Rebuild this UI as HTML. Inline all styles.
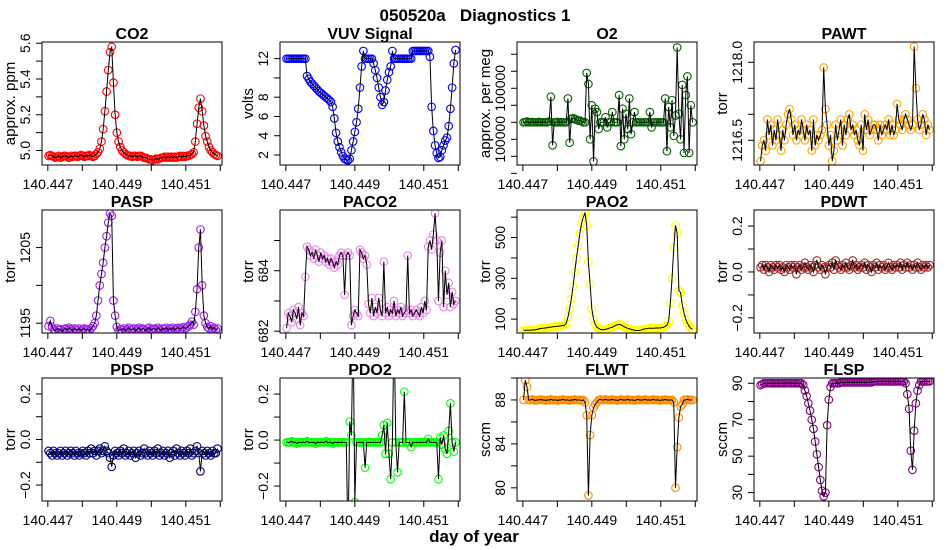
<!DOCTYPE html>
<html><head><meta charset="utf-8"><style>
html,body{margin:0;padding:0;background:#fff;}
svg{display:block;font-family:"Liberation Sans",sans-serif;}
</style></head><body>
<svg id="chart" width="950" height="550" viewBox="0 0 950 550">
<text x="475" y="21" text-anchor="middle" font-size="17" font-weight="bold" style="white-space:pre" xml:space="preserve">050520a   Diagnostics 1</text>
<text x="474" y="542" text-anchor="middle" font-size="17" font-weight="bold">day of year</text>
</svg>
<script>
const t0 = 140.44702, tStep = 0.0000495;
const xTickValues = [140.447,140.448,140.449,140.450,140.451,140.452];
const xTickLabels = ["140.447","","140.449","","140.451",""];

const co2 = [4.97,4.975,4.97,4.965,4.96,4.965,4.97,4.96,4.965,4.97,4.97,4.965,4.96,4.97,4.965,4.97,4.97,4.965,4.97,4.975,4.97,4.965,4.97,4.97,4.975,4.97,4.965,4.97,4.98,4.99,5.01,5.05,5.12,5.22,5.33,5.45,5.55,5.58,5.38,5.2,5.1,5.05,5.02,5.0,4.99,4.98,4.975,4.97,4.97,4.965,4.97,4.97,4.965,4.97,4.97,4.965,4.96,4.96,4.955,4.95,4.95,4.945,4.95,4.955,4.95,4.955,4.96,4.96,4.965,4.96,4.965,4.96,4.965,4.96,4.965,4.96,4.965,4.97,4.965,4.97,4.965,4.97,4.97,4.975,4.98,4.99,5.05,5.15,5.24,5.29,5.22,5.14,5.08,5.05,5.02,5.0,4.99,4.98,4.975,4.97];
const vuv = [12,12,12,12,12,12,12,12,12,12,12,12,10.2,9.9,9.6,9.4,9.2,9.0,8.8,8.6,8.45,8.3,8.15,8.0,7.85,7.7,7.5,7.0,5.8,4.3,3.4,2.8,2.3,1.9,1.6,1.5,1.45,1.6,2.5,3.4,4.4,5.4,6.8,9.0,11.2,12.8,12,12,12,12,12,11.5,10.8,10,9,8,7.2,7.5,8.7,9.8,10.6,11.2,12.8,12,12,12,12,12,12,12,12,12,12,12,12.8,12.8,12.8,12.8,12.8,12.8,12.8,12.8,12.8,12.8,12.2,7,4.5,3,2.2,1.7,1.8,2.5,3,3.5,3.8,5,6.8,9,11.5,12.9];
const o2 = [0,0,0.05,0,0,0.02,0,0,0,0.03,0,0,0,0,0,0.05,1.5,-1.35,0,0,0.02,0,0,0,0,0,1.4,-1.2,0.2,0.25,0.2,0.15,0.1,0.1,0.05,0,0,2.9,2.25,-1,1.0,-2.3,0.8,0.6,-0.4,0,0,0,0.3,-0.3,0,0,0.6,0,0,0,1.6,-1.4,0.8,-1,0.5,-0.4,1.4,-0.7,0,0.6,0,0,0,0,0,0,0,0,0.6,-0.3,0,0,0,0,0,0,0,1.4,-1.7,0.9,-0.3,1.3,-0.8,0.4,4.4,0.5,-1.0,2.2,-1.8,1.6,2.7,-1.8,1.0,0.0];
const pawt = [1216.1,1216.4,1216.5,1216.3,1216.9,1216.6,1216.8,1216.4,1216.7,1216.5,1216.9,1216.6,1216.3,1216.7,1216.5,1216.8,1217.0,1217.1,1216.9,1216.6,1216.8,1216.5,1216.7,1216.6,1216.9,1216.7,1216.5,1216.8,1216.6,1216.7,1216.3,1216.9,1216.4,1216.6,1216.5,1216.6,1216.7,1217.9,1217.1,1216.8,1216.4,1216.6,1216.1,1216.3,1216.8,1216.5,1216.7,1216.9,1216.4,1216.8,1216.6,1216.9,1217.0,1216.7,1216.8,1216.6,1216.7,1216.5,1216.4,1216.8,1216.3,1217.0,1216.7,1216.9,1216.6,1216.7,1216.8,1216.8,1216.7,1216.5,1216.8,1216.6,1216.7,1216.8,1216.7,1216.9,1216.6,1216.8,1216.6,1216.7,1217.2,1216.9,1216.8,1216.7,1216.9,1217.0,1216.9,1216.8,1216.7,1216.8,1218.3,1217.5,1216.9,1216.7,1216.8,1217.0,1216.9,1216.6,1216.8,1216.7];
const pasp = [1194.6,1195.3,1194.5,1194.2,1194.0,1194.3,1194.1,1194.2,1193.9,1194.2,1194.3,1194.1,1194.4,1194.2,1194.0,1194.3,1194.2,1194.1,1194.3,1194.0,1194.2,1194.3,1194.1,1194.2,1194.0,1194.3,1194.6,1195.0,1196.0,1198.0,1200.0,1201.5,1203.0,1205.0,1206.5,1208.3,1209.5,1209.2,1198.0,1196.0,1194.5,1194.0,1194.2,1194.1,1194.3,1194.0,1194.2,1194.4,1194.1,1194.2,1194.3,1194.0,1194.2,1194.4,1194.1,1194.3,1194.2,1194.0,1194.3,1194.4,1194.1,1194.2,1194.3,1194.1,1194.4,1194.2,1194.0,1194.3,1194.2,1194.4,1194.1,1194.3,1194.2,1194.4,1194.1,1194.3,1194.4,1194.2,1194.3,1194.5,1194.3,1194.4,1194.6,1194.8,1195.2,1194.8,1196.5,1199.5,1205.0,1207.4,1200.0,1196.0,1195.0,1194.5,1194.3,1194.6,1194.2,1194.4,1194.1,1194.3];
const paco2 = [682.1,682.6,682.5,682.3,682.7,682.6,682.4,682.8,682.2,682.6,682.5,683.8,684.8,684.7,684.5,684.6,684.4,684.7,684.5,684.3,684.6,684.4,684.5,684.3,684.4,684.2,684.4,684.3,684.1,684.3,684.2,684.5,684.6,684.5,683.2,684.5,684.6,684.5,682.2,682.5,682.7,682.6,682.5,684.7,684.6,684.4,684.5,684.2,682.9,682.6,683.1,682.5,682.8,682.6,683.1,682.7,682.5,684.3,682.6,682.8,682.5,682.7,682.6,683.0,682.5,682.7,682.6,682.8,682.5,682.6,682.7,684.5,682.6,682.7,682.5,682.6,682.7,682.6,682.5,682.8,682.6,683.0,682.7,684.8,685.0,684.7,685.2,685.9,685.0,683.0,684.6,685.0,682.8,684.0,683.2,683.6,682.8,683.3,682.9,683.0];
const pao2 = [45,45,46,45,46,47,47,48,50,52,54,55,56,57,58,60,61,62,63,64,65,66,67,68,70,80,110,150,200,260,330,400,460,520,570,600,620,560,380,270,150,100,75,60,55,50,48,48,50,52,55,58,60,65,70,72,75,72,68,62,58,55,52,50,48,45,45,44,45,47,50,52,53,55,56,55,55,56,57,56,57,58,60,65,70,90,180,300,450,560,520,240,230,170,130,100,80,65,55,50];
const pdwt = [0.02,0.03,0.01,0.03,0.02,0.0,0.03,0.02,0.01,0.03,0.02,0.03,0.01,0.02,0.0,0.03,0.02,0.01,0.03,0.02,0.03,-0.01,0.02,0.03,0.01,0.02,0.04,0.02,0.01,0.03,0.02,0.0,0.03,0.05,0.02,0.01,0.03,0.02,-0.01,0.02,0.03,0.02,0.04,0.01,0.05,0.03,0.02,0.01,0.03,0.02,0.04,0.02,0.01,0.03,0.05,0.02,0.03,0.01,0.02,0.03,0.02,0.04,0.01,0.03,0.02,0.0,0.03,0.02,0.04,0.01,0.03,0.02,0.03,0.01,0.02,0.04,0.02,0.01,0.03,0.02,0.03,0.02,0.04,0.01,0.03,0.02,0.04,0.02,0.03,0.01,0.03,0.02,0.04,0.02,0.01,0.03,0.02,0.03,0.02,0.03];
const pdsp = [-0.05,-0.06,-0.07,-0.05,-0.06,-0.07,-0.06,-0.05,-0.07,-0.06,-0.05,-0.07,-0.06,-0.05,-0.06,-0.07,-0.05,-0.06,-0.07,-0.06,-0.05,-0.06,-0.07,-0.05,-0.06,-0.04,-0.06,-0.05,-0.07,-0.05,-0.04,-0.06,-0.05,-0.03,-0.05,-0.06,-0.08,-0.12,-0.07,-0.05,-0.06,-0.07,-0.05,-0.06,-0.04,-0.07,-0.06,-0.05,-0.07,-0.06,-0.05,-0.08,-0.06,-0.05,-0.07,-0.06,-0.04,-0.06,-0.07,-0.05,-0.06,-0.07,-0.05,-0.06,-0.04,-0.07,-0.06,-0.05,-0.07,-0.06,-0.05,-0.08,-0.06,-0.05,-0.07,-0.04,-0.06,-0.07,-0.05,-0.06,-0.07,-0.05,-0.06,-0.04,-0.07,-0.06,-0.05,-0.03,-0.06,-0.14,-0.05,-0.06,-0.07,-0.05,-0.06,-0.07,-0.05,-0.06,-0.06,-0.04];
const pdo2 = [-0.01,-0.01,-0.01,-0.005,-0.01,-0.01,-0.015,-0.01,-0.01,-0.01,-0.01,-0.01,-0.005,-0.01,-0.01,-0.01,-0.01,-0.015,-0.01,-0.01,-0.01,-0.01,-0.01,-0.005,-0.01,-0.01,-0.01,-0.015,-0.01,-0.01,-0.01,-0.01,-0.01,-0.01,-0.01,-0.01,-0.45,0.08,0.02,0.5,-0.27,-0.01,-0.01,-0.01,-0.01,-0.01,-0.12,-0.01,-0.01,-0.01,-0.01,-0.01,-0.01,-0.01,-0.01,-0.01,0.02,0.065,-0.06,0.075,-0.06,-0.17,-0.01,0.5,-0.01,-0.14,-0.01,-0.01,-0.01,0.21,-0.01,-0.01,-0.01,-0.03,-0.01,-0.01,-0.01,-0.01,-0.01,-0.01,-0.01,-0.01,-0.01,0.005,-0.01,-0.01,-0.01,-0.01,-0.01,-0.17,0.01,-0.02,0.02,-0.04,-0.06,0.04,0.16,-0.01,-0.05,-0.01];
const flwt = [88.0,89.8,89.2,88.0,88.0,88.05,88.0,87.95,88.0,88.0,88.05,88.0,88.0,87.95,88.0,88.0,88.05,88.0,88.0,88.0,87.95,88.0,88.0,88.05,88.0,88.0,88.0,87.95,88.0,88.0,88.05,88.0,88.0,88.0,87.95,88.0,87.8,86.6,79.3,84.8,86.6,87.3,87.6,87.8,88.0,88.05,88.0,88.0,88.05,88.0,88.0,88.0,88.05,88.0,88.0,87.95,88.0,88.05,88.0,88.0,88.0,88.05,88.0,88.0,88.0,87.95,88.0,88.05,88.0,88.0,88.0,88.05,88.0,88.0,88.0,88.0,88.05,88.0,88.0,88.0,87.95,88.0,88.0,88.05,88.0,88.0,88.0,88.0,87.8,80.0,83.7,86.4,87.4,87.6,88.0,88.0,88.05,88.0,88.0,88.0];
const flsp = [89,89.5,90,90,90,90,90,90,90,90,90,90,90,90,90,90,90,90,90,90,90,90,90,90,90,89,86,83,79,75,70,65,58,51,44,37,31,28,30,67,81,88,90,90,90,90,90,90.5,90.5,90.5,90.5,90.5,90.5,90.5,90.5,90.5,90.5,90.5,90.5,90.5,90.5,90.5,90.5,90.5,90.5,90.5,91,91,91,91,91,91,91,91,91,91,91,91,91,91,91,91,91,91,91,90,84,76,53,42.5,64,79,86,89,91,91,91,91,91,91];

const panels = [
 {name:"co2",title:"CO2",ylab:"approx. ppm",data:co2,color:"#ff0000",col:0,row:0,y0:4.919,y1:5.607,ticks:[5.0,5.1,5.2,5.3,5.4,5.5,5.6],labels:["5.0","","5.2","","5.4","","5.6"]},
 {name:"vuv-signal",title:"VUV Signal",ylab:"volts",data:vuv,color:"#0000ff",col:1,row:0,y0:0.96,y1:13.73,ticks:[2,4,6,8,10,12],labels:["2","4","6","8","","12"]},
 {name:"o2",title:"O2",ylab:"approx. per meg",data:o2,color:"#006400",col:2,row:0,y0:-2.51,y1:4.72,ticks:[-3,-2,-1,0,1,2,3,4],labels:["","","100000","","","100000","",""]},
 {name:"pawt",title:"PAWT",ylab:"torr",data:pawt,color:"#ffa500",col:3,row:0,y0:1216.025,y1:1218.39,ticks:[1216.5,1217.0,1217.5,1218.0],labels:["1216.5","","","1218.0"]},
 {name:"pasp",title:"PASP",ylab:"torr",data:pasp,color:"#a020f0",col:0,row:1,y0:1193.7,y1:1209.97,ticks:[1195,1200,1205],labels:["1195","","1205"]},
 {name:"paco2",title:"PACO2",ylab:"torr",data:paco2,color:"#ee82ee",col:1,row:1,y0:681.94,y1:686.01,ticks:[682,683,684,685],labels:["682","","684",""]},
 {name:"pao2",title:"PAO2",ylab:"torr",data:pao2,color:"#ffff00",col:2,row:1,y0:32,y1:635,ticks:[100,200,300,400,500,600],labels:["100","","300","","500",""]},
 {name:"pdwt",title:"PDWT",ylab:"torr",data:pdwt,color:"#a52a2a",col:3,row:1,y0:-0.266,y1:0.27,ticks:[-0.2,-0.1,0,0.1,0.2],labels:["\u22120.2","","0.0","","0.2"]},
 {name:"pdsp",title:"PDSP",ylab:"torr",data:pdsp,color:"#000080",col:0,row:2,y0:-0.27,y1:0.27,ticks:[-0.2,-0.1,0,0.1,0.2],labels:["\u22120.2","","0.0","","0.2"]},
 {name:"pdo2",title:"PDO2",ylab:"torr",data:pdo2,color:"#00ff00",col:1,row:2,y0:-0.265,y1:0.27,ticks:[-0.2,-0.1,0,0.1,0.2],labels:["\u22120.2","","0.0","","0.2"]},
 {name:"flwt",title:"FLWT",ylab:"sccm",data:flwt,color:"#ff8c00",col:2,row:2,y0:78.8,y1:90.0,ticks:[80,82,84,86,88,90],labels:["80","","84","","88",""]},
 {name:"flsp",title:"FLSP",ylab:"sccm",data:flsp,color:"#8b008b",col:3,row:2,y0:25.4,y1:92.9,ticks:[30,40,50,60,70,80,90],labels:["30","","50","","70","","90"]}
];
const colLeft=[42,280,517,754], rowTop=[42,210,378], PW=180, PH=123;
const NS="http://www.w3.org/2000/svg";
const svg=document.getElementById("chart");
function mk(tag,attrs,parent){const e=document.createElementNS(NS,tag);for(const k in attrs)e.setAttribute(k,attrs[k]);(parent||svg).appendChild(e);return e;}
const defs=mk("defs",{});
panels.forEach((p,pi)=>{
  const L=colLeft[p.col],T=rowTop[p.row];
  const xs=v=>L+(v-140.44683)/(140.45205-140.44683)*PW;
  const ys=v=>T+PH-(v-p.y0)/(p.y1-p.y0)*PH;
  const g=mk("g",{});
  
  
  const cp=mk("clipPath",{id:"cp"+pi},defs);
  mk("rect",{x:L,y:T,width:PW,height:PH},cp);
  const title=mk("text",{x:L+PW/2,y:T-3,"text-anchor":"middle","font-size":"16","font-weight":"bold"},g);
  title.textContent=p.title;
  
  
  xTickValues.forEach((v,i)=>{
    const x=xs(v);
    const tk=mk("line",{x1:x,x2:x,y1:T+PH,y2:T+PH+6,stroke:"#000"},g);
    
    
    if(xTickLabels[i]){const tl=mk("text",{x:x,y:T+PH+24,"text-anchor":"middle","font-size":"14"},g);tl.textContent=xTickLabels[i];
      
      }
  });
  p.ticks.forEach((v,i)=>{
    const y=ys(v);
    if(y<T-1||y>T+PH+12)return;
    const tk=mk("line",{x1:L-6,x2:L,y1:y,y2:y,stroke:"#000"},g);
    
    
    if(p.labels[i]){const tl=mk("text",{x:L-12,y:y,"text-anchor":"middle","font-size":"14",transform:`rotate(-90 ${L-12} ${y})`},g);tl.textContent=p.labels[i];
      
      }
  });
  const yl=mk("text",{x:L-27,y:T+PH/2,"text-anchor":"middle","font-size":"15",transform:`rotate(-90 ${L-27} ${T+PH/2})`},g);
  yl.textContent=p.ylab;
  
  
  const pg=mk("g",{"clip-path":`url(#cp${pi})`},g);
  
  
  p.data.forEach((v,i)=>{
    const c=mk("circle",{cx:xs(t0+i*tStep),cy:ys(v),r:3.8,fill:"none",stroke:p.color,"stroke-width":1.1},pg);
    
    
  });
  const pts=p.data.map((v,i)=>xs(t0+i*tStep).toFixed(2)+","+ys(v).toFixed(2)).join(" ");
  const ln=mk("polyline",{points:pts,fill:"none",stroke:"#000","stroke-width":1},pg);
  
  
  const box=mk("rect",{x:L,y:T,width:PW,height:PH,fill:"none",stroke:"#000","stroke-width":1},g);
  
  
});
</script>
</body></html>
